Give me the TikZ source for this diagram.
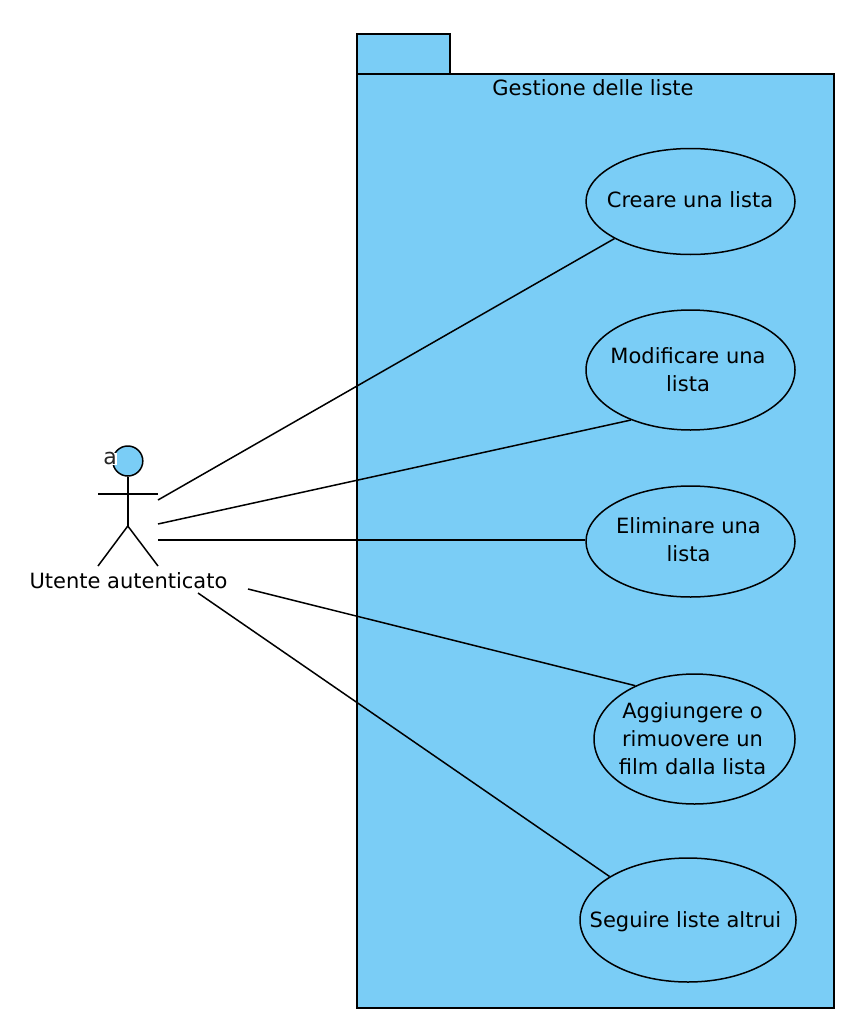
\documentclass[tikz,border=0pt]{standalone}
\usepackage{fontspec}
\setmainfont{DejaVu Sans}
\usetikzlibrary{shapes.geometric}
\definecolor{fillblue}{RGB}{122,205,246}
\tikzset{
 x=1pt,y=-1pt,
 pkg/.style={draw=black,fill=fillblue,line width=1.5pt},
 uc/.style={draw=black,fill=fillblue,ellipse,line width=1.5pt,inner sep=0pt},
 uctext/.style={inner sep=0pt,align=center,font=\fontsize{21}{28}\selectfont},
 lbl/.style={inner sep=0pt,font=\fontsize{21}{24}\selectfont},
 link/.style={draw=black,line width=1.5pt},
}
\begin{document}
\begin{tikzpicture}
\useasboundingbox[fill=white] (0,0) rectangle (852,1022);
\draw[pkg] (357,34) rectangle (450,74);
\draw[pkg] (357,74) rectangle (834,1008);
\node[lbl] (title) at (593,88) {Gestione delle liste};
\node[uc,minimum width=209pt,minimum height=106pt] (a) at (690.5,201.5) {};
\node[uctext] (at) at (690,200) {Creare una lista};
\node[uc,minimum width=209pt,minimum height=120pt] (b) at (690.5,370) {};
\node[uctext] (bt) at (688,370) {Modificare una\\lista};
\node[uc,minimum width=209pt,minimum height=111pt] (c) at (690.5,541.5) {};
\node[uctext] (ct) at (688.5,540) {Eliminare una\\lista};
\node[uc,minimum width=201pt,minimum height=130pt] (d) at (694.5,739) {};
\node[uctext] (dt) at (692.5,739) {Aggiungere o\\rimuovere un\\film dalla lista};
\node[uc,minimum width=216pt,minimum height=124pt] (e) at (688,920) {};
\node[uctext] (et) at (685.5,921.5) {Seguire liste altrui};
\node[draw=black,fill=fillblue,circle,line width=1.5pt,minimum size=30pt,inner sep=0pt] (head) at (127.8,461) {};
\node[font=\fontsize{22}{24}\selectfont,text=black!85,fill=white,inner xsep=0.5pt,inner ysep=0pt,text height=12pt,text depth=0pt] (stereo) at (110,458.5) {a};
\coordinate (hip) at (127.8,526);
\coordinate (armL) at (98,494);
\coordinate (armR) at (158,494);
\coordinate (footL) at (98,566);
\coordinate (footR) at (158,566);
\draw[link] (head.south) -- (hip);
\draw[link] (armL) -- (armR);
\draw[link] (footL) -- (hip) -- (footR);
\node[lbl] (actor) at (128.5,581) {Utente autenticato};
\coordinate (s1) at (158,500);
\coordinate (s2) at (158,524);
\coordinate (s3) at (158,540);
\coordinate (s4) at (248,589);
\coordinate (s5) at (198,593);
\draw[link] (s1) -- (a.206.1);
\draw[link] (s2) -- (b.220.5);
\draw[link] (s3) -- (s3 -| c.west);
\draw[link] (s4) -- (d.138.3);
\draw[link] (s5) -- (e.151.2);
\end{tikzpicture}
\end{document}
